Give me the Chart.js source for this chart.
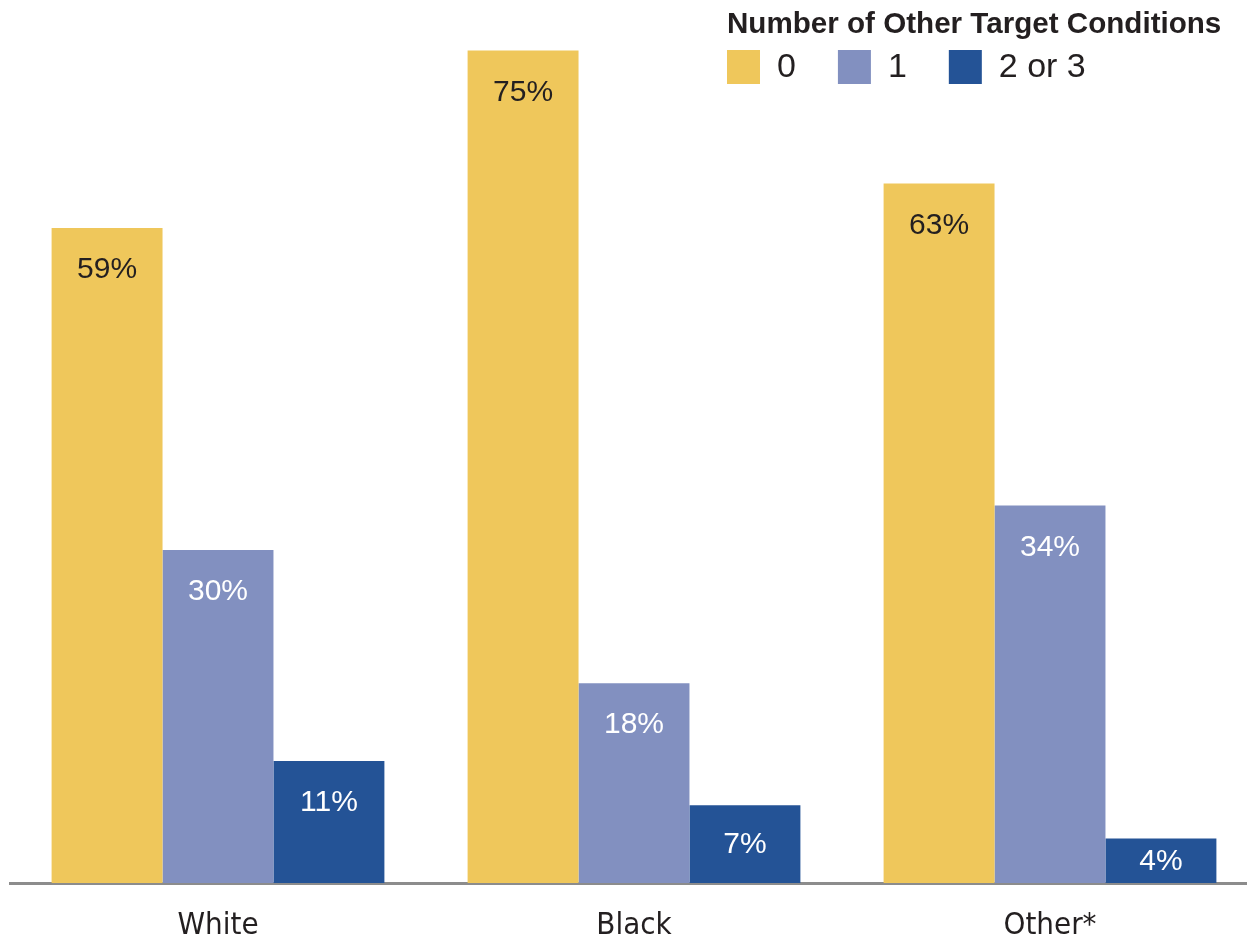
<!DOCTYPE html>
<html>
<head>
<meta charset="utf-8">
<script src="https://cdn.jsdelivr.net/npm/chart.js@4"></script>
<style>
  html, body { margin: 0; padding: 0; background: #fff; overflow: hidden; }
  #wrap { width: 1258px; height: 941px; }
</style>
</head>
<body>
<div id="wrap"><canvas id="chart" width="1258" height="941"></canvas></div>
<script>
const categories = ["White", "Black", "Other*"];
const legendTitle = "Number of Other Target Conditions";
const seriesNames = ["0", "1", "2 or 3"];
const zeroOther = [59, 75, 63];
const oneOther = [30, 18, 34];
const twoOrThreeOther = [11, 7, 4];

const colors = ["#EFC75B", "#8290C0", "#245396"];
const labelColors = ["#231F20", "#FFFFFF", "#FFFFFF"];

// value labels inside bars, near the top (centred when the bar is short)
const valueLabels = {
  id: "valueLabels",
  afterDraw(chart) {
    const ctx = chart.ctx;
    ctx.save();
    ctx.font = "30px 'Liberation Sans', Arial, sans-serif";
    ctx.textAlign = "center";
    ctx.textBaseline = "middle";
    chart.data.datasets.forEach((ds, i) => {
      const meta = chart.getDatasetMeta(i);
      meta.data.forEach((bar, j) => {
        const h = bar.base - bar.y;
        ctx.fillStyle = labelColors[i];
        ctx.fillText(ds.data[j] + "%", bar.x, bar.y + Math.min(42, h / 2 + 1));
      });
    });
    ctx.restore();
  },
};

// legend in the top right corner, drawn over the plot
const topLegend = {
  id: "topLegend",
  afterDraw(chart) {
    const ctx = chart.ctx;
    ctx.save();
    ctx.fillStyle = "#231F20";
    ctx.textBaseline = "alphabetic";
    ctx.textAlign = "left";
    ctx.font = "bold 29.6px 'Liberation Sans', Arial, sans-serif";
    ctx.fillText(legendTitle, 727, 33);
    ctx.font = "34px 'Liberation Sans', Arial, sans-serif";
    ctx.textBaseline = "middle";
    let x = 727;
    chart.data.datasets.forEach((ds, i) => {
      ctx.fillStyle = ds.backgroundColor;
      ctx.fillRect(x, 50, 33, 34);
      ctx.fillStyle = "#231F20";
      ctx.fillText(ds.label, x + 50, 68);
      x += 33 + 17 + ctx.measureText(ds.label).width + 42;
    });
    ctx.restore();
  },
};

new Chart(document.getElementById("chart"), {
  type: "bar",
  data: {
    labels: categories,
    datasets: [zeroOther, oneOther, twoOrThreeOther].map((d, i) => ({
      label: seriesNames[i],
      data: d,
      backgroundColor: colors[i],
      borderWidth: 0,
      categoryPercentage: 0.8,
      barPercentage: 1.0,
    })),
  },
  options: {
    responsive: false,
    animation: false,
    layout: { padding: { top: 6, left: 10, right: 0, bottom: 0 } },
    plugins: {
      legend: { display: false },
      tooltip: { enabled: false },
    },
    scales: {
      x: {
        grid: { display: false, drawTicks: false },
        border: { display: true, color: "#8C8C8C", width: 3 },
        afterFit(scale) { scale.height = 58; },
        ticks: {
          color: "#231F20",
          padding: 27,
          font: { family: "'Liberation Sans Narrow', 'DejaVu Sans Condensed', sans-serif", size: 31, lineHeight: 1 },
        },
      },
      y: {
        display: false,
        min: 0,
        max: 79,
      },
    },
  },
  plugins: [valueLabels, topLegend],
});
</script>
</body>
</html>
